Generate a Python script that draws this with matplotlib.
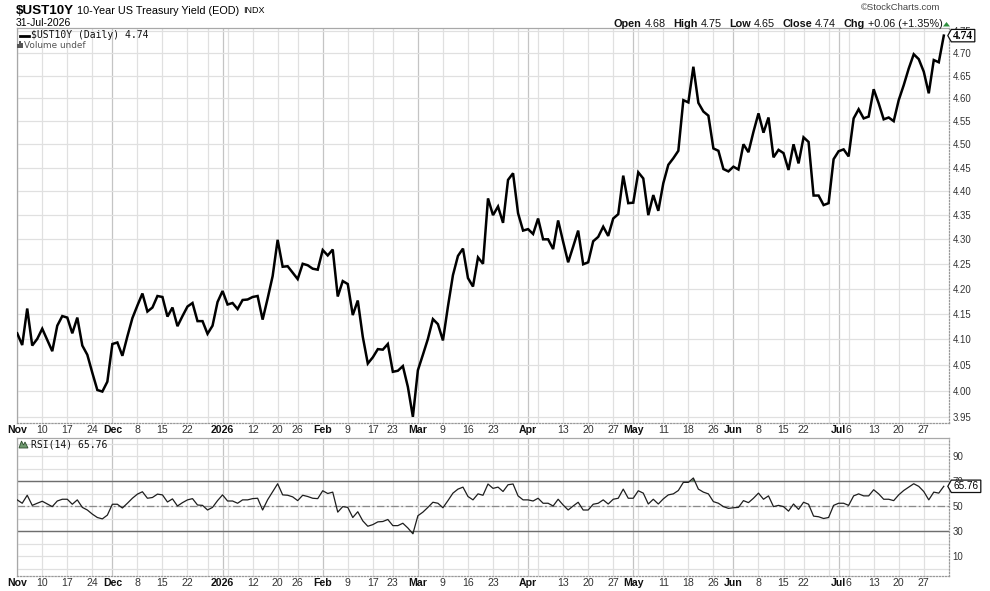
import numpy as np
import pandas as pd
import matplotlib
matplotlib.use("Agg")
import matplotlib.pyplot as plt
from matplotlib.patches import Polygon, Rectangle
from matplotlib.lines import Line2D
from matplotlib.ticker import NullLocator

# ---------------- data ----------------
start_date = "2025-11-03"
end_date = "2026-07-31"
holidays = ["2025-11-27", "2025-12-25", "2026-01-01", "2026-01-19", "2026-02-16",
            "2026-04-03", "2026-05-25", "2026-06-19", "2026-07-03"]

close = [
    4.111, 4.088, 4.160, 4.087, 4.100, 4.120, 4.098, 4.076, 4.126, 4.145,
    4.142, 4.111, 4.142, 4.087, 4.069, 4.034, 4.001, 3.998, 4.017, 4.090,
    4.093, 4.067, 4.105, 4.141, 4.166, 4.190, 4.154, 4.162, 4.185, 4.183,
    4.144, 4.162, 4.125, 4.145, 4.164, 4.171, 4.135, 4.135, 4.110, 4.126,
    4.173, 4.195, 4.168, 4.171, 4.159, 4.177, 4.178, 4.183, 4.185, 4.138,
    4.180, 4.225, 4.299, 4.244, 4.245, 4.232, 4.219, 4.250, 4.247, 4.240,
    4.238, 4.278, 4.267, 4.279, 4.184, 4.215, 4.209, 4.147, 4.176, 4.104,
    4.052, 4.064, 4.080, 4.079, 4.090, 4.036, 4.038, 4.047, 4.007, 3.950,
    4.039, 4.069, 4.100, 4.139, 4.129, 4.097, 4.164, 4.227, 4.266, 4.281,
    4.221, 4.204, 4.263, 4.250, 4.385, 4.350, 4.368, 4.334, 4.424, 4.438,
    4.354, 4.318, 4.321, 4.311, 4.343, 4.300, 4.300, 4.280, 4.339, 4.295,
    4.253, 4.285, 4.318, 4.249, 4.253, 4.296, 4.305, 4.326, 4.307, 4.343,
    4.352, 4.433, 4.375, 4.376, 4.440, 4.427, 4.350, 4.392, 4.359, 4.417,
    4.456, 4.470, 4.486, 4.596, 4.591, 4.670, 4.590, 4.571, 4.562, 4.491,
    4.486, 4.447, 4.442, 4.452, 4.446, 4.500, 4.483, 4.527, 4.567, 4.525,
    4.558, 4.472, 4.488, 4.481, 4.445, 4.500, 4.459, 4.515, 4.505, 4.391,
    4.391, 4.371, 4.375, 4.468, 4.485, 4.489, 4.474, 4.556, 4.576, 4.556,
    4.560, 4.620, 4.589, 4.554, 4.558, 4.550, 4.596, 4.629, 4.666, 4.698,
    4.687, 4.659, 4.611, 4.685, 4.680, 4.740,
]

rsi = [
    54.9, 52.2, 58.6, 50.5, 52.2, 53.8, 51.6, 49.5, 54.0, 55.4,
    55.4, 51.4, 54.9, 48.9, 46.8, 43.5, 40.8, 39.7, 42.7, 51.4,
    51.4, 48.4, 52.2, 56.2, 59.5, 61.4, 56.2, 56.8, 59.5, 58.9,
    53.2, 55.7, 50.0, 52.7, 54.9, 55.9, 50.8, 50.5, 46.8, 48.9,
    54.3, 58.9, 54.0, 54.0, 52.2, 54.9, 54.9, 55.9, 56.2, 46.8,
    55.0, 61.4, 67.8, 58.9, 58.6, 57.3, 54.3, 58.6, 57.6, 56.2,
    55.9, 62.2, 60.0, 61.1, 45.1, 49.5, 48.9, 40.8, 45.4, 38.1,
    33.8, 35.1, 37.3, 37.6, 39.2, 34.3, 34.3, 36.2, 32.4, 27.8,
    42.2, 45.1, 48.9, 53.0, 52.2, 48.6, 54.3, 60.3, 63.5, 65.1,
    57.6, 54.9, 59.7, 58.6, 67.6, 64.1, 65.1, 61.6, 67.0, 67.6,
    58.1, 54.9, 54.9, 54.0, 56.2, 52.2, 52.2, 50.0, 55.4, 50.8,
    46.8, 50.0, 53.0, 46.8, 46.8, 51.4, 52.2, 54.9, 51.6, 55.4,
    56.2, 63.5, 56.2, 56.2, 62.2, 60.3, 51.6, 55.4, 51.6, 55.7,
    58.9, 59.7, 62.4, 68.9, 68.9, 72.4, 63.5, 61.1, 59.7, 53.5,
    52.2, 49.5, 48.1, 48.6, 48.9, 54.3, 52.7, 56.2, 60.3, 55.4,
    58.1, 49.5, 50.5, 49.5, 45.9, 51.6, 47.3, 53.0, 51.4, 41.9,
    41.4, 40.0, 40.8, 50.5, 52.2, 52.2, 50.5, 58.1, 59.7, 58.1,
    58.1, 63.0, 59.7, 55.4, 55.4, 54.3, 58.9, 62.4, 65.1, 67.8,
    65.7, 61.6, 54.9, 61.1, 60.3, 65.76,
]

tick_dates = ["2025-11-03", "2025-11-10", "2025-11-17", "2025-11-24", "2025-12-01",
              "2025-12-08", "2025-12-15", "2025-12-22", "2026-01-02", "2026-01-12",
              "2026-01-20", "2026-01-26", "2026-02-02", "2026-02-09", "2026-02-17",
              "2026-02-23", "2026-03-02", "2026-03-09", "2026-03-16", "2026-03-23",
              "2026-04-01", "2026-04-13", "2026-04-20", "2026-04-27", "2026-05-01",
              "2026-05-11", "2026-05-18", "2026-05-26", "2026-06-01", "2026-06-08",
              "2026-06-15", "2026-06-22", "2026-07-01", "2026-07-06", "2026-07-13",
              "2026-07-20", "2026-07-27"]
tick_labels = ["Nov", "10", "17", "24", "Dec", "8", "15", "22", "2026", "12",
               "20", "26", "Feb", "9", "17", "23", "Mar", "9", "16", "23",
               "Apr", "13", "20", "27", "May", "11", "18", "26", "Jun", "8",
               "15", "22", "Jul", "6", "13", "20", "27"]
bold_labels = {"Nov", "Dec", "2026", "Feb", "Mar", "Apr", "May", "Jun", "Jul"}

price_ticks = [3.95, 4.00, 4.05, 4.10, 4.15, 4.20, 4.25, 4.30, 4.35, 4.40,
               4.45, 4.50, 4.55, 4.60, 4.65, 4.70, 4.75]
rsi_ticks = [10, 30, 50, 70, 90]
rsi_grid = [0, 10, 20, 30, 40, 50, 60, 70, 80, 90, 100]

# --------------- derived ---------------
dates = pd.bdate_range(start_date, end_date)
dates = dates[~dates.isin(pd.to_datetime(holidays))]
assert len(dates) == len(close) == len(rsi)
x = np.arange(len(dates))
close = np.array(close)
rsi = np.array(rsi)

date_pos = {d.strftime("%Y-%m-%d"): i for i, d in enumerate(dates)}
tick_pos = [date_pos[d] for d in tick_dates]

iso = dates.isocalendar()
week_start = [i for i in range(len(dates)) if i == 0 or iso.week.iloc[i] != iso.week.iloc[i - 1]]
month_start = [i for i in range(len(dates)) if i == 0 or dates[i].month != dates[i - 1].month]
grid_pos = sorted(set(week_start) | set(month_start))

# --------------- figure ---------------
W, H = 990, 591
fig = plt.figure(figsize=(W / 100, H / 100), dpi=100)
fig.patch.set_facecolor("white")


def fx(px):
    return px / W


def fy(py):
    return 1 - py / H


SANS = ["Liberation Sans", "DejaVu Sans"]
MONO = ["DejaVu Sans Mono"]

L, R = 16.7, 949.3
ax = fig.add_axes([fx(L), fy(423.3), (R - L) / W, (423.3 - 27.7) / H])
ax2 = fig.add_axes([fx(L), fy(575.7), (R - L) / W, (575.7 - 437.7) / H])

xlim = (-0.1, len(dates) + 0.1)
SPINE = "#a8a8a8"

for a in (ax, ax2):
    a.set_xlim(*xlim)
    for gp in grid_pos:
        col = "#c4c4c4" if gp in month_start else "#e0e0e0"
        a.axvline(gp, color=col, lw=0.9, zorder=0)
    a.set_xticks(tick_pos)
    a.set_xticklabels(tick_labels)
    for lab in a.get_xticklabels():
        lab.set_family(SANS)
        lab.set_fontsize(7.6)
        if lab.get_text() in bold_labels:
            lab.set_fontweight("bold")
            lab.set_color("#111111")
        else:
            lab.set_color("#333333")
    a.tick_params(axis="x", length=0, pad=1.5)
    a.tick_params(axis="y", length=0, pad=2.2, labelsize=6.9, labelcolor="#333333",
                  left=False, right=True, labelleft=False, labelright=True)
    a.spines["left"].set_color(SPINE)
    a.spines["top"].set_color(SPINE)
    a.spines["right"].set_color("#999999")
    a.spines["bottom"].set_color("#999999")
    a.spines["right"].set_linestyle((0, (1, 1.5)))
    a.spines["bottom"].set_linestyle((0, (1, 1.5)))
    for s in a.spines.values():
        s.set_linewidth(0.9)

# ---- main price panel ----
ax.set_yscale("log")
ax.set_ylim(3.9378, 4.758)
ax.yaxis.set_minor_locator(NullLocator())
ax.set_yticks(price_ticks)
ax.set_yticklabels([f"{v:.2f}" for v in price_ticks])
for lab in ax.get_yticklabels():
    lab.set_family(SANS)
for v in price_ticks:
    ax.axhline(v, color="#e0e0e0", lw=0.9, zorder=0)
ax.plot(x, close, color="black", lw=1.8, solid_joinstyle="miter", zorder=3)

# ---- RSI panel ----
ax2.set_ylim(-5.76, 104.64)
ax2.set_yticks(rsi_ticks)
ax2.set_yticklabels([str(v) for v in rsi_ticks])
for lab in ax2.get_yticklabels():
    lab.set_family(SANS)
for v in rsi_grid:
    ax2.axhline(v, color="#e0e0e0", lw=0.9, zorder=0)
ax2.axhline(70, color="#6e6e6e", lw=1.0, zorder=1)
ax2.axhline(30, color="#6e6e6e", lw=1.0, zorder=1)
ax2.axhline(50, color="#8a8a8a", lw=0.9, ls=(0, (6, 2, 1.5, 2)), zorder=1)
ax2.fill_between(x, rsi, 70, where=rsi >= 70, interpolate=True, color="#5d7f5d", zorder=2, lw=0)
ax2.fill_between(x, rsi, 30, where=rsi <= 30, interpolate=True, color="#5d7f5d", zorder=2, lw=0)
ax2.plot(x, rsi, color="#1e1e1e", lw=0.9, zorder=3)

# ---- header texts ----
renderer = fig.canvas.get_renderer()


def put(xpx, ypx, s, size, weight="normal", color="#000000", family=SANS, ha="left"):
    t = fig.text(fx(xpx), fy(ypx), s, fontsize=size, fontweight=weight, color=color,
                 family=family, ha=ha, va="center")
    return t.get_window_extent(renderer)


bb = put(15.5, 10.5, "$UST10Y", 9.6, "bold")
bb = put(bb.x1 + 3.5, 10.5, "10-Year US Treasury Yield (EOD)", 7.8)
put(bb.x1 + 3.5, 10.8, "INDX", 6.5)
put(15.5, 22.8, "31-Jul-2026", 7.5)

put(940, 7.0, "\u00a9StockCharts.com", 6.8, color="#444444", ha="right")

hdr = [("Open", "bold"), ("4.68", "normal"), ("High", "bold"), ("4.75", "normal"),
       ("Low", "bold"), ("4.65", "normal"), ("Close", "bold"), ("4.74", "normal"),
       ("Chg", "bold"), ("+0.06 (+1.35%)", "normal")]
xp = 613.5
for k, (s, w) in enumerate(hdr):
    b = put(xp, 24.0, s, 7.8, w, color="#111111")
    xp = b.x1 + (3.2 if w == "bold" else 7.3)
xp -= 4.0
fig.add_artist(Polygon([(fx(xp - 3), fy(26.5)), (fx(xp + 4), fy(26.5)), (fx(xp + 0.5), fy(22.0))],
                       closed=True, transform=fig.transFigure, color="#2f8f3f", lw=0))

# ---- legends inside panels ----
fig.add_artist(Line2D([fx(20), fx(29)], [fy(35.7), fy(35.7)], transform=fig.transFigure,
                      color="black", lw=2.0))
put(31.5, 35.5, "$UST10Y (Daily) 4.74", 7.0, family=MONO, color="#111111")
for bx, bh in [(17.0, 4), (19.2, 6), (21.4, 5)]:
    fig.add_artist(Rectangle((fx(bx), fy(47.5)), 1.5 / W, bh / H, transform=fig.transFigure,
                             color="#555555", lw=0))
put(24.5, 45.2, "Volume undef", 6.4, color="#555555", family=["DejaVu Sans"])

fig.add_artist(Polygon([(fx(19), fy(448)), (fx(21.5), fy(441)), (fx(23.5), fy(445)),
                        (fx(25), fy(442)), (fx(28), fy(448))], closed=True,
                       transform=fig.transFigure, facecolor="#6f9a6f", edgecolor="#2d4d2d", lw=0.6))
put(31, 444.5, "RSI(14) 65.76", 7.0, family=MONO, color="#111111")


# ---- value tags at right ----
def tag(a, yval, s, width, weight, family, size):
    ydisp = a.transData.transform((0, yval))[1]
    ypx = H - ydisp
    xl = R + 2.0
    pts = [(xl - 3.5, ypx), (xl, ypx - 6.2), (xl + width, ypx - 6.2),
           (xl + width, ypx + 6.2), (xl, ypx + 6.2)]
    fig.add_artist(Polygon([(fx(px), fy(py)) for px, py in pts], closed=True,
                           transform=fig.transFigure, facecolor="white",
                           edgecolor="#111111", lw=0.9, zorder=10))
    fig.text(fx(xl + width / 2), fy(ypx), s, fontsize=size, fontweight=weight,
             family=family, ha="center", va="center", color="#000000", zorder=11)


tag(ax, close[-1], f"{close[-1]:.2f}", 23.5, "bold", ["Liberation Serif"], 8.3)
tag(ax2, rsi[-1], f"{rsi[-1]:.2f}", 29.5, "normal", SANS, 7.2)

fig.savefig("out.png", dpi=100, facecolor="white")
